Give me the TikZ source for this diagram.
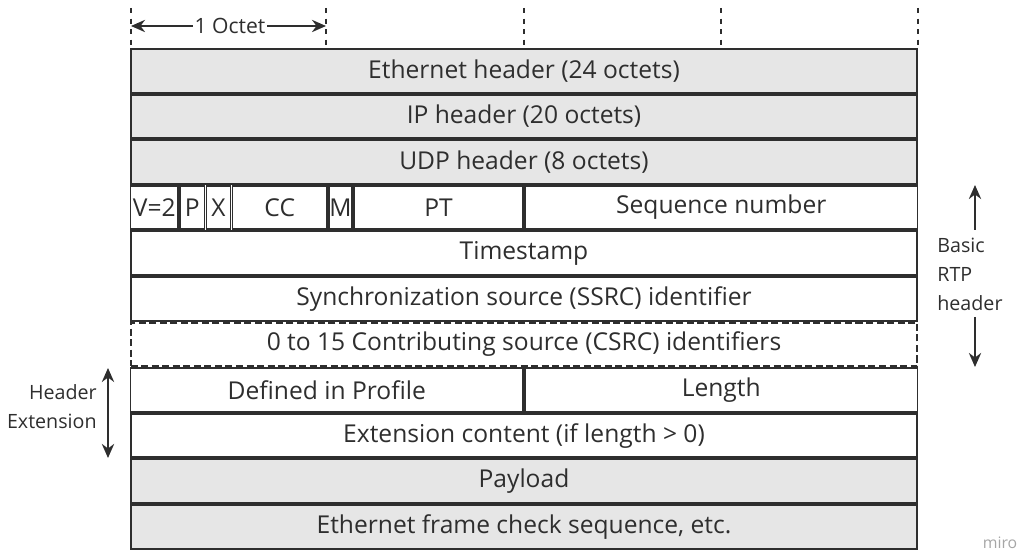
\documentclass[tikz,border=0pt]{standalone}
\usepackage{fontspec}
\setmainfont{Open Sans}
\usetikzlibrary{arrows.meta}
\definecolor{hdrgray}{HTML}{E6E6E6}
\definecolor{ink}{HTML}{2E2E2E}
\begin{document}
\begin{tikzpicture}[x=0.02cm, y=-0.02cm,
  cell/.style={draw=ink, line width=1.1pt, inner sep=0pt, outer sep=0pt, minimum height=0.912cm-1.1pt, text=ink, font=\fontsize{14}{16}\selectfont},
  full/.style={cell, minimum width=15.78cm-1.1pt},
  grey/.style={fill=hdrgray},
  tick/.style={draw=ink, line width=0.9pt, dash pattern=on 3pt off 3pt},
  arr/.style={draw=ink, line width=1pt, -{Stealth[length=8pt,width=7pt]}},
  note/.style={text=ink, font=\fontsize{11.2}{16.5}\selectfont, inner sep=0pt}]
\useasboundingbox (0,0) rectangle (1019,550);
% octet ticks
\coordinate (t0) at (131,8);
\coordinate (t1) at (326,8);
\coordinate (t2) at (524,8);
\coordinate (t3) at (721,8);
\coordinate (t4) at (918,8);
\coordinate (b0) at (131,48);
\coordinate (b1) at (326,48);
\coordinate (b2) at (524,48);
\coordinate (b3) at (721,48);
\coordinate (b4) at (918,48);
\draw[tick](t0) -- (b0);
\draw[tick](t1) -- (b1);
\draw[tick](t2) -- (b2);
\draw[tick](t3) -- (b3);
\draw[tick](t4) -- (b4);
\coordinate (oct0) at (131,26);
\coordinate (oct1) at (326,26);
\node[note, fill=white, inner xsep=1pt, font=\fontsize{12}{14}\selectfont] (octet) at (230,26){1 Octet};
\draw[arr](octet) -- (oct0);
\draw[arr](octet) -- (oct1);
% rows
\node[full, grey] (eth) at (524,70.8){Ethernet header (24 octets)};
\node[full, grey] (ip) at (524,116.4){IP header (20 octets)};
\node[full, grey] (udp) at (524,162){UDP header (8 octets)};
\node[cell, minimum width=0.99cm-1.1pt] (ver) at (154.25,207.6){V=2};
\node[cell, minimum width=0.53cm-1.1pt] (pad) at (192.25,207.6){P};
\node[cell, minimum width=0.52cm-1.1pt] (ext) at (218.5,207.6){X};
\node[cell, minimum width=1.93cm-1.1pt] (cc) at (279.75,207.6){CC};
\node[cell, minimum width=0.5cm-1.1pt] (mark) at (340.5,207.6){M};
\node[cell, minimum width=3.42cm-1.1pt] (pt) at (438.5,207.6){PT};
\node[cell, minimum width=7.89cm-1.1pt] (seq) at (721.25,207.6){Sequence number};
\node[full] (ts) at (524,253.2){Timestamp};
\node[full] (ssrc) at (524,298.8){Synchronization source (SSRC) identifier};
\node[full, dash pattern=on 4pt off 2pt] (csrc) at (524,344.4){0 to 15 Contributing source (CSRC) identifiers};
\node[cell, minimum width=7.89cm-1.1pt] (prof) at (326.75,390){Defined in Profile};
\node[cell, minimum width=7.89cm-1.1pt] (len) at (721.25,390){Length};
\node[full] (extc) at (524,435.6){Extension content (if length > 0)};
\node[full, grey] (pay) at (524,481.2){Payload};
\node[full, grey] (fcs) at (524,526.8){Ethernet frame check sequence, etc.};
% side notes
\node[note, align=left, anchor=west] (rtp) at (937,274){Basic\\RTP\\header};
\coordinate (up0) at (975,230);
\coordinate (up1) at (975,185);
\coordinate (dn0) at (975,317);
\coordinate (dn1) at (975,367);
\draw[arr](up0) -- (up1);
\draw[arr](dn0) -- (dn1);
\node[note, align=right, anchor=east] (hdrext) at (97,407){Header\\Extension};
\coordinate (he0) at (108,368);
\coordinate (he1) at (108,458);
\draw[arr, {Stealth[length=8pt,width=7pt]}-{Stealth[length=8pt,width=7pt]}](he0) -- (he1);
\node[text=gray!70, font=\fontsize{9}{10}\selectfont, inner sep=0pt] (miro) at (1000,543){miro};
\end{tikzpicture}
\end{document}
